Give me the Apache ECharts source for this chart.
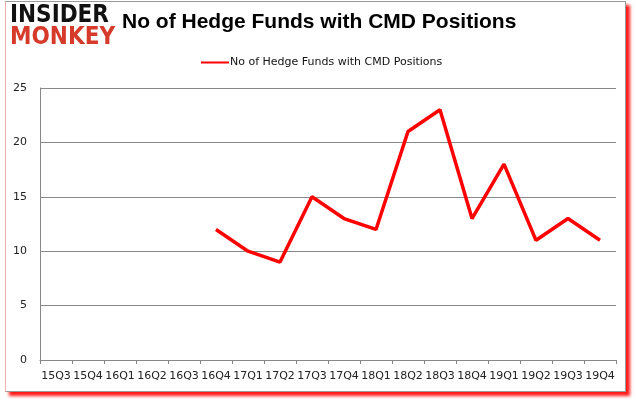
<!DOCTYPE html>
<html>
<head>
<meta charset="utf-8">
<script src="https://cdn.jsdelivr.net/npm/echarts@6/dist/echarts.min.js"></script>
<style>
html,body{margin:0;padding:0;background:#fff;width:636px;height:405px;overflow:hidden;}
#frame{position:absolute;left:5px;top:1px;width:619px;height:389px;border:1px solid #9a9a9a;border-left-color:#f0b0b0;box-shadow:4px 4px 3px #ff1a1a;background:#fff;}
#chart{position:absolute;left:0;top:0;width:636px;height:405px;}
</style>
</head>
<body>
<div id="frame"></div>
<div id="chart"></div>
<script>
const categories = ['15Q3','15Q4','16Q1','16Q2','16Q3','16Q4','17Q1','17Q2','17Q3','17Q4','18Q1','18Q2','18Q3','18Q4','19Q1','19Q2','19Q3','19Q4'];
const fundCounts = [null,null,null,null,null,12,10,9,15,13,12,21,23,13,18,11,13,11];
const yTicks = [0,5,10,15,20,25];
const seriesName = 'No of Hedge Funds with CMD Positions';
const titleText = 'No of Hedge Funds with CMD Positions';

const chart = echarts.init(document.getElementById('chart'), null, {renderer:'canvas'});
chart.setOption({
  animation:false,
  backgroundColor:'transparent',
  graphic:[
    {type:'text', left:10, top:4, style:{text:'INSIDER', fill:'#111', font:'bold 24px "DejaVu Sans Condensed"'}},
    {type:'text', left:10, top:26, style:{text:'MONKEY', fill:'#d63a2a', font:'bold 24px "DejaVu Sans Condensed"'}},
    {type:'text', left:122, top:12, style:{text:titleText, fill:'#000', font:'bold 21px "Liberation Sans"'}}
  ],
  legend:{
    top:52, left:196,
    itemWidth:28, itemHeight:14,
    icon:'path://M0,6L28,6L28,8L0,8Z',
    itemGap:0,
    textStyle:{fontFamily:'DejaVu Sans', fontSize:11, color:'#111', padding:[0,0,0,-4]},
    data:[{name:seriesName}]
  },
  grid:{left:40, right:20, top:88, bottom:45},
  xAxis:{
    type:'category', data:categories, boundaryGap:true,
    axisLine:{lineStyle:{color:'#888'}},
    axisTick:{show:true, length:4, alignWithLabel:false, lineStyle:{color:'#888'}},
    axisLabel:{interval:0, margin:11, fontFamily:'DejaVu Sans', fontSize:11, color:'#222'}
  },
  yAxis:{
    type:'value', min:0, max:25, interval:5,
    axisLine:{show:true, lineStyle:{color:'#888'}},
    axisTick:{show:false},
    splitLine:{lineStyle:{color:'#888'}},
    axisLabel:{margin:13, fontFamily:'DejaVu Sans', fontSize:11, color:'#222',
      formatter:function(v){return yTicks.indexOf(v)>=0 ? String(v) : '';}}
  },
  series:[{
    name:seriesName, type:'line', data:fundCounts,
    showSymbol:false, symbol:'none', connectNulls:false,
    lineStyle:{color:'#ff0000', width:3.5},
    itemStyle:{color:'#ff0000'}
  }]
});
</script>
</body>
</html>
